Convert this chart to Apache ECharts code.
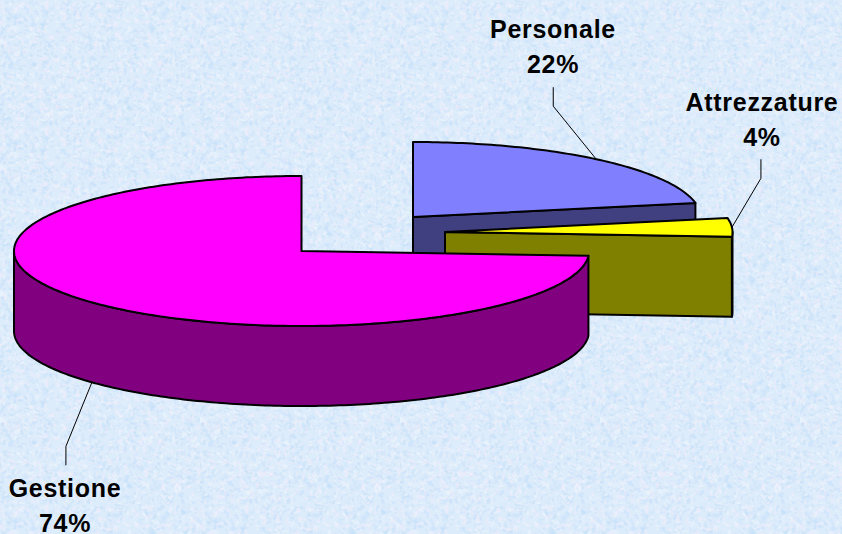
<!DOCTYPE html>
<html>
<head>
<meta charset="utf-8">
<style>
html,body{margin:0;padding:0;background:#DCECFB;}
#chart{width:842px;height:534px;}
#chart text{letter-spacing:0.7px;}
</style>
<script src="https://cdn.jsdelivr.net/npm/echarts@6/dist/echarts.min.js"></script>
</head>
<body>
<div id="chart"></div>
<script>
// ---- chart data, as printed on the picture ----
var categories = ['Personale', 'Attrezzature', 'Gestione'];
var percents = [22, 4, 74];

// ---- styling and layout ----
var topColors = ['#8080FF', '#FFFF00', '#FF00FF'];
var sideColors = ['#404080', '#808000', '#800080'];
var centers = [[413, 217], [445, 232], [301.5, 251]];   // exploded slice centres
var labelAt = [[553, 11], [762, 84], [65, 470]];
var elbowOffsets = [[-43, -53, -19], [29, -49, -19], [-26, 64, 19]]; // elbow dx, dy, then vertical run
var RX = 287.5, RY = 75, DEPTH = 80;
var FONT = 'bold 25px "Liberation Sans", Arial, sans-serif';

// ---- decorative mottled paper texture (seeded, not data) ----
function makeTexture() {
  var w = 200, h = 126, c = document.createElement('canvas');
  c.width = w; c.height = h;
  var g = c.getContext('2d'), seed = 12345;
  function rnd() { seed = (seed * 1103515245 + 12345) & 0x7fffffff; return seed / 0x7fffffff; }
  g.fillStyle = '#DDECFB';
  g.fillRect(0, 0, w, h);
  var cols = ['rgba(192,222,248,0.42)', 'rgba(242,238,252,0.5)', 'rgba(204,229,250,0.45)', 'rgba(238,245,254,0.5)'];
  for (var i = 0; i < 2400; i++) {
    var x = rnd() * w, y = rnd() * h, a = rnd() * Math.PI, l = 1 + rnd() * 5;
    g.strokeStyle = cols[Math.floor(rnd() * cols.length)];
    g.lineWidth = 1 + rnd() * 2.5;
    g.beginPath();
    g.moveTo(x, y);
    g.lineTo(x + Math.cos(a) * l, y + Math.sin(a) * l);
    g.stroke();
  }
  return c.toDataURL();
}
var dom = document.getElementById('chart');
dom.style.backgroundImage = 'url(' + makeTexture() + ')';

// ---- pie geometry: angle is clockwise from 12 o'clock ----
function rim(c, deg, drop) {
  var t = deg * Math.PI / 180;
  return [c[0] + RX * Math.sin(t), c[1] - RY * Math.cos(t) + (drop || 0)];
}
function arc(c, a, b, drop) {
  var pts = [], n = Math.max(1, Math.ceil(Math.abs(b - a)));
  for (var i = 0; i <= n; i++) pts.push(rim(c, a + (b - a) * i / n, drop));
  return pts;
}
function poly(points, fill, z, lw) {
  return { type: 'polygon', z2: z, shape: { points: points },
    style: { fill: fill, stroke: '#000', lineWidth: lw || 2, lineJoin: 'round' } };
}

var total = percents.reduce(function (s, v) { return s + v; }, 0);
var starts = [];
percents.reduce(function (s, v, i) { starts[i] = s; return s + v; }, 0);

function renderItem(params, api) {
  var i = params.dataIndex, value = api.value(0), c = centers[i];
  var a = starts[i] / total * 360, b = a + value / total * 360;
  var kids = [], z = i * 10;
  // cut face at the clockwise end of the slice, when it faces the viewer
  if (b > 0 && b < 180) {
    var e = rim(c, b);
    kids.push(poly([c, e, [e[0], e[1] + DEPTH], [c[0], c[1] + DEPTH]], sideColors[i], z));
  }
  // outer wall: only the front half of the rim
  var wa = Math.max(a, 90), wb = Math.min(b, 270);
  if (wb > wa) {
    kids.push(poly(arc(c, wa, wb).concat(arc(c, wb, wa, DEPTH)), sideColors[i], z + 1));
  }
  // top surface
  kids.push(poly([c].concat(arc(c, a, b)), topColors[i], z + 2));
  // leader line from the rim at the slice's middle angle
  var mid = (a + b) / 2;
  var front = mid > 90 && mid < 270;
  var anchor = rim(c, mid, front ? DEPTH : 0);
  var o = elbowOffsets[i];
  var elbow = [anchor[0] + o[0], anchor[1] + o[1]];
  kids.push({ type: 'polyline', z2: 50,
    shape: { points: [anchor, elbow, [elbow[0], elbow[1] + o[2]]] },
    style: { fill: null, stroke: '#000', lineWidth: 1 } });
  // label
  kids.push({ type: 'text', z2: 60, x: labelAt[i][0], y: labelAt[i][1],
    style: { text: categories[i] + '\n' + value + '%', font: FONT, fill: '#000',
      align: 'center', verticalAlign: 'top', lineHeight: 35 } });
  return { type: 'group', children: kids };
}

var chart = echarts.init(dom, null, { renderer: 'svg', width: 842, height: 534 });
chart.setOption({
  animation: false,
  backgroundColor: 'transparent',
  series: [{
    type: 'custom',
    coordinateSystem: 'none',
    silent: true,
    renderItem: renderItem,
    data: percents.map(function (v, i) { return { name: categories[i], value: [v] }; })
  }]
});
</script>
</body>
</html>
